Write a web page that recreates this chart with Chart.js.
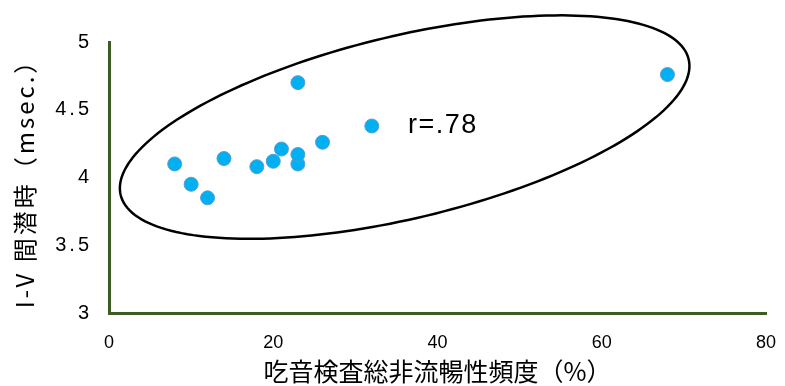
<!DOCTYPE html>
<html>
<head>
<meta charset="utf-8">
<script src="https://cdn.jsdelivr.net/npm/chart.js@4/dist/chart.umd.min.js"></script>
<style>
  html, body { margin: 0; padding: 0; background: #fff; }
  #wrap { width: 785px; height: 386px; }
</style>
</head>
<body>
<div id="wrap"><canvas id="chart" width="785" height="386"></canvas></div>
<script>
// stuttering frequency (%) vs I-V interpeak latency (msec.)
const dysfluency = [8, 10, 12, 14, 18, 20, 21, 23, 23, 23, 26, 32, 68];
const ivLatency  = [4.10, 3.95, 3.85, 4.14, 4.08, 4.12, 4.21, 4.10, 4.17, 4.70, 4.26, 4.38, 4.76];

const xTicks = [0, 20, 40, 60, 80];
const yTicks = [3, 3.5, 4, 4.5, 5];

const xTitle = '吃音検査総非流暢性頻度（%）';
const yTitle = 'I-V 間潜時（msec.）';

// correlation note + hand-drawn ellipse, in data units
const rLabel = 'r=.78';
const rLabelAt = [36.4, 4.38];
const ellipseCenter = [36.0, 4.372];
const ellipseMajor = [34.58, 0.501];   // semi-axis vectors
const ellipseMinor = [2.59, -0.655];

const axisGreen = '#3d5c24';
const cjk = '"Noto Sans CJK JP", "Liberation Sans", sans-serif';

const points = dysfluency.map((x, i) => ({ x: x, y: ivLatency[i] }));

// ellipse + r label drawn through the scales
const annotate = {
  id: 'annotate',
  afterDatasetsDraw(chart) {
    const { ctx, scales: { x, y } } = chart;
    ctx.save();
    ctx.beginPath();
    for (let k = 0; k <= 200; k++) {
      const t = (k / 200) * Math.PI * 2;
      const dx = ellipseCenter[0] + ellipseMajor[0] * Math.cos(t) + ellipseMinor[0] * Math.sin(t);
      const dy = ellipseCenter[1] + ellipseMajor[1] * Math.cos(t) + ellipseMinor[1] * Math.sin(t);
      const px = x.getPixelForValue(dx), py = y.getPixelForValue(dy);
      if (k === 0) ctx.moveTo(px, py); else ctx.lineTo(px, py);
    }
    ctx.closePath();
    ctx.lineWidth = 2.5;
    ctx.strokeStyle = '#000';
    ctx.stroke();

    ctx.font = '27px "Liberation Sans", sans-serif';
    ctx.letterSpacing = '1.5px';
    ctx.fillStyle = '#000';
    ctx.textAlign = 'left';
    ctx.textBaseline = 'middle';
    ctx.fillText(rLabel, x.getPixelForValue(rLabelAt[0]), y.getPixelForValue(rLabelAt[1]));
    ctx.restore();

    // y axis text (drawn in the z=1 layers below) is spaced out in the original
    ctx.letterSpacing = '3px';
  },
  afterDraw(chart) {
    chart.ctx.letterSpacing = '0px';
  }
};

new Chart(document.getElementById('chart'), {
  type: 'scatter',
  data: {
    datasets: [{
      data: points,
      backgroundColor: '#00b0f0',
      borderColor: '#5b9bd5',
      borderWidth: 1,
      pointRadius: 7,
      pointHoverRadius: 7
    }]
  },
  options: {
    responsive: false,
    animation: false,
    layout: { padding: { top: 42, right: 19, bottom: 0, left: 0 } },
    plugins: { legend: { display: false }, tooltip: { enabled: false } },
    scales: {
      x: {
        type: 'linear',
        min: 0, max: 80,
        afterBuildTicks: (s) => { s.ticks = xTicks.map(v => ({ value: v })); },
        afterFit: (s) => { s.height = 73; s.paddingLeft = 0; s.paddingRight = 0; },
        grid: { display: false, drawTicks: false },
        border: { display: true, color: axisGreen, width: 3 },
        ticks: {
          color: '#000', padding: 19,
          font: { family: '"Liberation Sans", sans-serif', size: 18 },
          callback: (v) => String(v)
        },
        title: {
          display: true, text: xTitle, color: '#000',
          font: { family: cjk, size: 25 }, padding: { top: 0, bottom: 0 }
        }
      },
      y: {
        type: 'linear',
        min: 3, max: 5,
        afterBuildTicks: (s) => { s.ticks = yTicks.map(v => ({ value: v })); },
        afterFit: (s) => { s.width = 109; },
        grid: { display: false, drawTicks: false, z: 1 },
        border: { display: true, color: axisGreen, width: 3, z: 1 },
        ticks: {
          color: '#000', padding: 17, z: 1,
          font: { family: '"Liberation Sans", sans-serif', size: 20 },
          callback: (v) => String(v)
        },
        title: {
          display: true, text: yTitle, color: '#000',
          font: { family: cjk, size: 24 }, padding: { top: 10, bottom: 0 }
        }
      }
    }
  },
  plugins: [annotate]
});
</script>
</body>
</html>
